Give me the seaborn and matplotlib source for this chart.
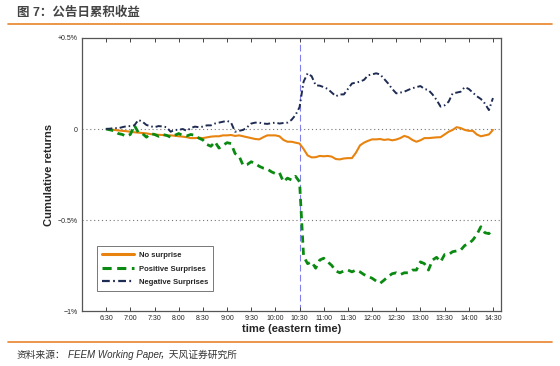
import numpy as np
import pandas as pd
import seaborn as sns
import matplotlib.pyplot as plt
from matplotlib.lines import Line2D

# --- dati (minuti dalle 6:00, rendimenti cumulati in %) ---
minutes = list(range(30, 511, 5))

no_surprise = [
    0.0, -0.003, -0.005, -0.008, -0.01, -0.012, -0.015, -0.018, -0.02, -0.022,
    -0.024, -0.028, -0.03, -0.032, -0.033, -0.036, -0.035, -0.037, -0.04, -0.042,
    -0.045, -0.05, -0.05, -0.048, -0.05, -0.046, -0.042, -0.04, -0.04, -0.035,
    -0.035, -0.033, -0.038, -0.035, -0.04, -0.045, -0.05, -0.055, -0.057, -0.045,
    -0.035, -0.035, -0.035, -0.04, -0.06, -0.07, -0.07, -0.075, -0.08, -0.11,
    -0.145, -0.156, -0.155, -0.148, -0.15, -0.148, -0.152, -0.165, -0.167, -0.162,
    -0.16, -0.16, -0.13, -0.09, -0.075, -0.065, -0.057, -0.057, -0.055, -0.06,
    -0.057, -0.062, -0.058, -0.05, -0.038, -0.045, -0.06, -0.07, -0.062, -0.05,
    -0.05, -0.048, -0.046, -0.045, -0.03, -0.015, -0.005, 0.01, 0.005, -0.005,
    -0.01, -0.01, -0.03, -0.04, -0.035, -0.03, -0.005,
]

positive = [
    0.0, -0.005, -0.01, -0.025, -0.03, -0.04, -0.03, 0.02, -0.02, -0.025,
    -0.045, -0.025, -0.03, -0.04, -0.03, -0.035, -0.045, -0.035, -0.025, -0.035,
    -0.038, -0.03, -0.035, -0.05, -0.06, -0.085, -0.095, -0.07, -0.105, -0.09,
    -0.075, -0.08, -0.135, -0.15, -0.2, -0.195, -0.18, -0.19, -0.205, -0.215,
    -0.22, -0.235, -0.245, -0.24, -0.29, -0.27, -0.28, -0.26, -0.29, -0.70,
    -0.74, -0.73, -0.765, -0.72, -0.71, -0.73, -0.75, -0.78, -0.79, -0.78,
    -0.775, -0.785, -0.775, -0.785, -0.8, -0.81, -0.82, -0.835, -0.848, -0.83,
    -0.81, -0.795, -0.79, -0.8, -0.79, -0.79, -0.775, -0.775, -0.73, -0.74,
    -0.775, -0.72, -0.705, -0.73, -0.69, -0.69, -0.674, -0.67, -0.665, -0.64,
    -0.63, -0.61, -0.58, -0.537, -0.57, -0.575, -0.55,
]

negative = [
    0.0, 0.002, 0.005, 0.004, 0.01, 0.015, 0.016, 0.02, 0.05, 0.04,
    0.022, 0.015, 0.01, 0.016, 0.014, 0.01, -0.015, -0.005, -0.005, 0.0,
    -0.01, 0.005, 0.013, 0.01, 0.013, 0.02, 0.02, 0.03, 0.035, 0.04,
    0.045, 0.035, -0.015, -0.01, -0.005, 0.01, 0.03, 0.035, 0.035, 0.03,
    0.028, 0.032, 0.035, 0.03, 0.033, 0.035, 0.05, 0.077, 0.12, 0.26,
    0.306, 0.29, 0.24, 0.238, 0.23, 0.22, 0.2, 0.18, 0.19, 0.19,
    0.22, 0.25, 0.255, 0.26, 0.27, 0.295, 0.3, 0.306, 0.3, 0.275,
    0.25, 0.22, 0.196, 0.2, 0.205, 0.215, 0.224, 0.23, 0.236, 0.22,
    0.214, 0.19, 0.16, 0.123, 0.13, 0.15, 0.196, 0.2, 0.205, 0.23,
    0.22, 0.2, 0.18, 0.165, 0.14, 0.104, 0.17,
]

tick_minutes = list(range(30, 511, 30))
tick_labels = ['6:30', '7:00', '7:30', '8:00', '8:30', '9:00', '9:30', '10:00',
               '10:30', '11:00', '11:30', '12:00', '12:30', '13:00', '13:30',
               '14:00', '14:30']
y_ticks = [0.5, 0.0, -0.5, -1.0]
y_labels = ['+0.5%', '0', '\u22120.5%', '\u22121%']

series_names = ['No surprise', 'Positive Surprises', 'Negative Surprises']

# --- stile ---
sns.set_style('white')
plt.rcParams['font.family'] = ['Liberation Sans', 'Noto Sans CJK SC', 'DejaVu Sans']

fig = plt.figure(figsize=(5.6, 3.66), dpi=100)
ax = fig.add_axes([82 / 560, 1 - 311 / 366, 419 / 560, 273 / 366])

df = pd.DataFrame({'t': minutes, 'none': no_surprise,
                   'pos': positive, 'neg': negative})

sns.lineplot(data=df, x='t', y='none', ax=ax, color='#e8830f', lw=1.5,
             label=series_names[0])
sns.lineplot(data=df, x='t', y='pos', ax=ax, color='#0b8a12', lw=2.0,
             label=series_names[1])
ax.lines[-1].set_dashes([2.6, 1.8])
sns.lineplot(data=df, x='t', y='neg', ax=ax, color='#1e2b52', lw=1.4,
             label=series_names[2])
ax.lines[-1].set_dashes([3.2, 1.5, 0.8, 1.5])

# linee di riferimento
for yv in [0.0, -0.5]:
    ax.axhline(yv, color='#777777', lw=0.8, ls=(0, (1, 2.5)), zorder=0)
ax.axvline(270, color='#8080ee', lw=0.8, ls=(0, (6, 3)), zorder=0)

ax.set_xlim(0, 520)
ax.set_ylim(-1.0, 0.5)
ax.set_xticks(tick_minutes)
ax.set_xticklabels(tick_labels, fontsize=5)
ax.set_yticks(y_ticks)
ax.set_yticklabels(y_labels, fontsize=5)
ax.tick_params(axis='x', direction='in', top=True, bottom=True, length=3,
               width=0.7, color='#444444', pad=3)
ax.tick_params(axis='y', length=0, pad=3)
for s in ax.spines.values():
    s.set_color('#555555')
    s.set_linewidth(0.9)

ax.set_xlabel('time (eastern time)', fontsize=8, fontweight='bold', labelpad=1)
ax.set_ylabel('Cumulative returns', fontsize=8, fontweight='bold', labelpad=3)

handles = [Line2D([], [], color='#e8830f', lw=2.2),
           Line2D([], [], color='#0b8a12', lw=2.2, dashes=[3.0, 1.8]),
           Line2D([], [], color='#1e2b52', lw=1.6, dashes=[3.5, 1.5, 0.8, 1.5])]
leg = ax.legend(handles, series_names, loc='lower left',
                bbox_to_anchor=(0.026, 0.058), fontsize=5.5, frameon=True,
                fancybox=False, framealpha=1, edgecolor='#777777',
                handlelength=4.2, borderpad=0.7, labelspacing=0.8,
                handletextpad=0.6)
leg.get_frame().set_linewidth(0.7)
for txt in leg.get_texts():
    txt.set_fontweight('bold')

# --- titolo e fonte ---
fig.text(17 / 560, 1 - 13 / 366, '图 7：公告日累积收益', fontsize=9,
         fontweight='bold', color='#444444', va='center', ha='left')
fig.add_artist(Line2D([8 / 560, 552 / 560], [1 - 24 / 366, 1 - 24 / 366],
                      color='#e8832a', lw=1.2))
fig.add_artist(Line2D([8 / 560, 552 / 560], [1 - 342 / 366, 1 - 342 / 366],
                      color='#e8832a', lw=1.2))
fig.text(17 / 560, 1 - 355 / 366, '资料来源：', fontsize=7, color='#333333',
         va='center', ha='left')
fig.text(68 / 560, 1 - 355 / 366, 'FEEM Working Paper', fontsize=7,
         style='italic', color='#333333', va='center', ha='left')
fig.text(160 / 560, 1 - 355 / 366, '，天风证券研究所', fontsize=7, color='#333333',
         va='center', ha='left')

plt.savefig('out.png', dpi=100)
plt.close()
